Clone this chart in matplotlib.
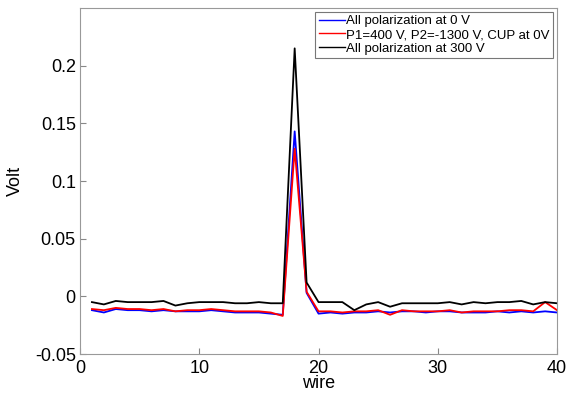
import numpy as np
import matplotlib
matplotlib.use('Agg')
from matplotlib import pyplot as plt

plt.rcParams['font.family'] = ['Liberation Sans', 'DejaVu Sans']

wire = np.arange(1, 41)

blue = [-0.012, -0.014, -0.011, -0.012, -0.012, -0.013, -0.012, -0.013, -0.013, -0.013,
        -0.012, -0.013, -0.014, -0.014, -0.014, -0.015, -0.016, 0.143, 0.003, -0.015,
        -0.014, -0.015, -0.014, -0.014, -0.013, -0.014, -0.013, -0.013, -0.014, -0.013,
        -0.013, -0.014, -0.014, -0.014, -0.013, -0.014, -0.013, -0.014, -0.013, -0.014]
red = [-0.011, -0.012, -0.010, -0.011, -0.011, -0.012, -0.011, -0.013, -0.012, -0.012,
       -0.011, -0.012, -0.013, -0.013, -0.013, -0.014, -0.017, 0.128, 0.004, -0.013,
       -0.013, -0.014, -0.013, -0.013, -0.012, -0.016, -0.012, -0.013, -0.013, -0.013,
       -0.012, -0.014, -0.013, -0.013, -0.013, -0.012, -0.012, -0.013, -0.005, -0.012]
black = [-0.005, -0.007, -0.004, -0.005, -0.005, -0.005, -0.004, -0.008, -0.006, -0.005,
         -0.005, -0.005, -0.006, -0.006, -0.005, -0.006, -0.006, 0.215, 0.012, -0.005,
         -0.005, -0.005, -0.012, -0.007, -0.005, -0.009, -0.006, -0.006, -0.006, -0.006,
         -0.005, -0.007, -0.005, -0.006, -0.005, -0.005, -0.004, -0.007, -0.005, -0.006]

labels = ['All polarization at 0 V', 'P1=400 V, P2=-1300 V, CUP at 0V',
          'All polarization at 300 V']

fig = plt.figure(figsize=(5.69, 3.94), dpi=100)
ax = fig.add_axes([0.1406, 0.1015, 0.8384, 0.8782])

ax.plot(wire, blue, color='#0000ff', lw=1.3, label=labels[0])
ax.plot(wire, red, color='#ff0000', lw=1.3, label=labels[1])
ax.plot(wire, black, color='black', lw=1.3, label=labels[2])

ax.set_xlim(0, 40)
ax.set_ylim(-0.05, 0.25)
ax.set_xticks([0, 10, 20, 30, 40])
ax.set_yticks([-0.05, 0, 0.05, 0.1, 0.15, 0.2])
ax.set_yticklabels(['-0.05', '0', '0.05', '0.1', '0.15', '0.2'])
ax.tick_params(direction='in', labelsize=13, length=4, color='#888888')
ax.tick_params(axis='y', pad=3)
ax.tick_params(axis='x', pad=4)
for s in ax.spines.values():
    s.set_color('#999999')
    s.set_linewidth(0.8)

ax.set_xlabel('wire', fontsize=13, labelpad=-1)
ax.set_ylabel('Volt', fontsize=13, labelpad=8)

leg = ax.legend(loc='upper right', fontsize=9.5, handlelength=2.0, handletextpad=0.1,
                borderpad=0.25, labelspacing=0.1, fancybox=False, framealpha=1,
                borderaxespad=0.3)
leg.get_frame().set_edgecolor('#777777')
leg.get_frame().set_linewidth(0.8)
for line in leg.get_lines():
    line.set_linewidth(1.0)

fig.savefig('out.png', dpi=100)
